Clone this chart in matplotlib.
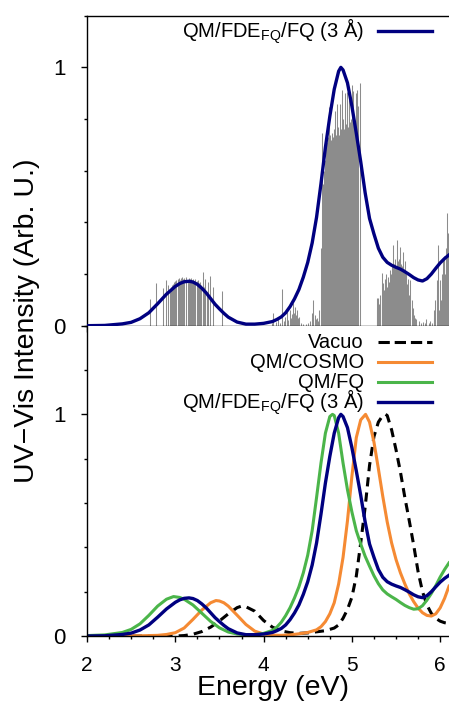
import matplotlib
matplotlib.use("Agg")
import matplotlib.pyplot as plt
from matplotlib.ticker import MultipleLocator, FixedLocator

plt.rcParams['font.family'] = ['Liberation Sans', 'DejaVu Sans']
plt.rcParams['mathtext.fontset'] = 'custom'
plt.rcParams['mathtext.rm'] = 'Liberation Sans'

# --- spectra (energy in eV, normalised intensity) ---
fde_E = [2.0, 2.2, 2.4, 2.5, 2.6, 2.7, 2.8, 2.9, 3.0, 3.05, 3.1, 3.155, 3.2, 3.25, 3.3,
         3.35, 3.4, 3.45, 3.5, 3.55, 3.6, 3.7, 3.8, 3.9, 4.0, 4.1, 4.15, 4.2, 4.25, 4.3,
         4.35, 4.4, 4.45, 4.5, 4.55, 4.6, 4.65, 4.7, 4.75, 4.8, 4.85, 4.875, 4.9, 4.95,
         5.0, 5.05, 5.1, 5.15, 5.2, 5.25, 5.3, 5.35, 5.4, 5.45, 5.5, 5.55, 5.6, 5.65,
         5.7, 5.75, 5.8, 5.85, 5.9, 5.95, 6.0, 6.05, 6.1]
fde_I = [0.0, 0.001, 0.007, 0.013, 0.027, 0.05, 0.085, 0.122, 0.152, 0.163, 0.17, 0.172,
         0.169, 0.16, 0.145, 0.127, 0.105, 0.083, 0.065, 0.048, 0.033, 0.014, 0.006,
         0.006, 0.009, 0.016, 0.024, 0.034, 0.05, 0.074, 0.104, 0.14, 0.188, 0.245, 0.32,
         0.42, 0.55, 0.69, 0.81, 0.915, 0.985, 1.0, 0.99, 0.94, 0.85, 0.745, 0.635, 0.515,
         0.415, 0.355, 0.3, 0.265, 0.245, 0.234, 0.226, 0.219, 0.209, 0.198, 0.186, 0.177,
         0.173, 0.182, 0.2, 0.222, 0.243, 0.26, 0.274]

fq_E = [2.0, 2.2, 2.4, 2.5, 2.6, 2.7, 2.8, 2.9, 2.98, 3.05, 3.1, 3.2, 3.3, 3.4, 3.5, 3.6,
        3.7, 3.8, 3.9, 4.0, 4.1, 4.15, 4.2, 4.25, 4.3, 4.35, 4.4, 4.45, 4.5, 4.55, 4.6,
        4.65, 4.7, 4.75, 4.78, 4.8, 4.85, 4.9, 4.95, 5.0, 5.05, 5.1, 5.15, 5.2, 5.25, 5.3,
        5.35, 5.4, 5.45, 5.5, 5.55, 5.6, 5.65, 5.7, 5.75, 5.8, 5.85, 5.9, 5.95, 6.0, 6.05,
        6.1]
fq_I = [0.002, 0.005, 0.016, 0.03, 0.055, 0.093, 0.135, 0.166, 0.178, 0.174, 0.166, 0.14,
        0.103, 0.066, 0.037, 0.018, 0.009, 0.005, 0.006, 0.012, 0.025, 0.04, 0.062, 0.092,
        0.128, 0.172, 0.222, 0.285, 0.365, 0.475, 0.625, 0.78, 0.915, 0.99, 1.0, 0.995,
        0.915, 0.78, 0.66, 0.56, 0.475, 0.415, 0.36, 0.315, 0.272, 0.236, 0.208, 0.19,
        0.177, 0.165, 0.151, 0.138, 0.128, 0.121, 0.123, 0.137, 0.162, 0.192, 0.227, 0.266,
        0.3, 0.33]

cosmo_E = [2.0, 2.6, 2.8, 2.9, 3.0, 3.1, 3.2, 3.3, 3.4, 3.46, 3.5, 3.55, 3.6, 3.7, 3.8,
           3.9, 4.0, 4.1, 4.2, 4.3, 4.4, 4.5, 4.6, 4.65, 4.7, 4.75, 4.8, 4.85, 4.9, 4.95,
           5.0, 5.05, 5.1, 5.155, 5.2, 5.25, 5.3, 5.35, 5.4, 5.45, 5.5, 5.55, 5.6, 5.65,
           5.7, 5.75, 5.8, 5.85, 5.9, 5.95, 6.0, 6.05, 6.1]
cosmo_I = [0.0, 0.001, 0.003, 0.007, 0.015, 0.036, 0.075, 0.117, 0.15, 0.16, 0.158, 0.15,
           0.135, 0.094, 0.052, 0.022, 0.009, 0.004, 0.003, 0.005, 0.01, 0.016, 0.028,
           0.042, 0.065, 0.1, 0.15, 0.235, 0.355, 0.52, 0.72, 0.895, 0.975, 1.0, 0.965,
           0.875, 0.755, 0.63, 0.515, 0.42, 0.345, 0.285, 0.235, 0.19, 0.155, 0.126, 0.105,
           0.093, 0.09, 0.1, 0.127, 0.17, 0.225]

vac_E = [2.0, 3.0, 3.1, 3.2, 3.3, 3.4, 3.5, 3.6, 3.7, 3.75, 3.8, 3.9, 4.0, 4.1, 4.2, 4.3,
         4.4, 4.5, 4.6, 4.7, 4.8, 4.85, 4.9, 4.95, 5.0, 5.05, 5.1, 5.15, 5.2, 5.25, 5.3,
         5.35, 5.38, 5.4, 5.45, 5.5, 5.55, 5.6, 5.65, 5.7, 5.75, 5.8, 5.85, 5.9, 5.95, 6.0,
         6.05, 6.1]
vac_I = [0.0, 0.0, 0.002, 0.008, 0.02, 0.04, 0.068, 0.1, 0.128, 0.135, 0.132, 0.112, 0.07,
         0.04, 0.023, 0.015, 0.012, 0.014, 0.019, 0.024, 0.036, 0.05, 0.08, 0.12, 0.175,
         0.27, 0.42, 0.58, 0.77, 0.9, 0.965, 0.995, 1.0, 0.995, 0.93, 0.84, 0.74, 0.625,
         0.52, 0.41, 0.29, 0.2, 0.14, 0.102, 0.08, 0.067, 0.06, 0.057]

# individual excitations (sticks) of the QM/FDE/FQ snapshots
stick_E = [2.713, 2.784, 2.855, 2.900, 2.922,
           2.936, 2.948, 2.960, 2.972, 2.984, 2.996, 3.008, 3.032, 3.044, 3.056, 3.068,
           3.080, 3.092, 3.104, 3.116, 3.140, 3.152, 3.164, 3.176, 3.188, 3.200, 3.212,
           3.224, 3.248, 3.260, 3.272, 3.284, 3.296,
           3.310, 3.317, 3.330, 3.342, 3.355, 3.368, 3.393, 3.430, 3.525,
           4.100, 4.110, 4.140, 4.167, 4.190, 4.212, 4.230, 4.242, 4.261, 4.280, 4.299,
           4.310, 4.322, 4.337, 4.346, 4.356, 4.366, 4.375, 4.390, 4.405, 4.420, 4.450,
           4.480, 4.506, 4.530, 4.544, 4.555, 4.563, 4.580, 4.590, 4.601, 4.615, 4.630,
           4.645, 4.658, 4.668, 4.678, 4.688, 4.698, 4.708, 4.718, 4.728, 4.736, 4.745,
           4.756, 4.767, 4.778, 4.789, 4.800, 4.808, 4.818, 4.827, 4.838, 4.848, 4.857,
           4.865, 4.875, 4.884, 4.894, 4.903, 4.912, 4.922, 4.932, 4.941, 4.950, 4.960,
           4.971, 4.980, 4.990, 4.997, 5.008, 5.018, 5.028, 5.037, 5.046, 5.056, 5.066,
           5.088,
           5.280, 5.290, 5.300, 5.310, 5.320, 5.337, 5.345, 5.355, 5.365, 5.375, 5.385,
           5.395, 5.405, 5.415, 5.431, 5.440, 5.450, 5.460, 5.469, 5.478, 5.488, 5.497,
           5.507, 5.516, 5.526, 5.535, 5.545, 5.555, 5.565, 5.574, 5.582, 5.592, 5.602,
           5.612, 5.622, 5.632, 5.642, 5.658, 5.677, 5.690, 5.700, 5.715, 5.730, 5.760,
           5.780, 5.800, 5.830, 5.845, 5.870, 5.885, 5.905,
           5.925, 5.935, 5.945, 5.959, 5.968, 5.979, 5.988, 5.998, 6.008, 6.018, 6.028,
           6.035, 6.045, 6.055, 6.065, 6.074, 6.085, 6.095]
stick_I = [0.103, 0.164, 0.145, 0.177, 0.157,
           0.13, 0.15, 0.158, 0.163, 0.168, 0.172, 0.178, 0.18, 0.186, 0.178, 0.183,
           0.189, 0.18, 0.185, 0.19, 0.178, 0.186, 0.18, 0.184, 0.176, 0.182, 0.174,
           0.179, 0.172, 0.176, 0.166, 0.17, 0.158,
           0.16, 0.209, 0.15, 0.18, 0.12, 0.17, 0.192, 0.149, 0.136,
           0.01, 0.05, 0.015, 0.03, 0.012, 0.142, 0.02, 0.035, 0.054, 0.022, 0.06,
           0.03, 0.045, 0.087, 0.05, 0.074, 0.04, 0.06, 0.03, 0.035, 0.012, 0.006,
           0.008, 0.012, 0.02, 0.048, 0.03, 0.1, 0.04, 0.025, 0.03, 0.02, 0.06,
           0.3, 0.745, 0.55, 0.48, 0.6, 0.64, 0.7, 0.712, 0.73, 0.7, 0.847,
           0.74, 0.72, 0.745, 0.73, 0.76, 0.83, 0.74, 0.86, 0.75, 0.77, 0.74,
           0.86, 0.76, 0.912, 0.78, 0.8, 0.76, 0.9, 0.78, 0.8, 0.906, 0.77,
           0.873, 0.79, 0.8, 0.93, 0.91, 0.77, 0.8, 0.78, 0.9, 0.912, 0.85,
           0.938,
           0.106, 0.06, 0.106, 0.085, 0.12, 0.203, 0.12, 0.164, 0.14, 0.18, 0.2,
           0.15, 0.19, 0.17, 0.216, 0.2, 0.225, 0.24, 0.312, 0.24, 0.26, 0.23,
           0.332, 0.27, 0.25, 0.26, 0.306, 0.24, 0.23, 0.22, 0.287, 0.22, 0.25,
           0.2, 0.16, 0.18, 0.12, 0.177, 0.099, 0.07, 0.04, 0.03, 0.025, 0.02,
           0.012, 0.015, 0.01, 0.025, 0.012, 0.02, 0.01,
           0.03, 0.06, 0.1, 0.177, 0.12, 0.312, 0.06, 0.177, 0.1, 0.2, 0.15,
           0.254, 0.27, 0.2, 0.3, 0.435, 0.36, 0.3]

fde_label = r'QM/FDE$_\mathregular{FQ}$/FQ (3 Å)'

navy = '#000080'
orange = '#f58a33'
green = '#4bb54a'
grey = '#8c8c8c'

fig = plt.figure(figsize=(4.49, 7.01), dpi=100)
ax1 = fig.add_axes([0.1938, 0.5354, 0.8062, 0.4422])
ax2 = fig.add_axes([0.1938, 0.0927, 0.8062, 0.4427])

# top panel: sticks + broadened spectrum
ax1.vlines(stick_E, 0, stick_I, colors=grey, linewidth=0.75, zorder=1)
top_lines = ax1.plot(fde_E, fde_I, color=navy, lw=2.4, zorder=3)
ax1.set_ylim(0, 1.2)

# bottom panel: comparison of models
l_vac, = ax2.plot(vac_E, vac_I, color='black', lw=2.2, linestyle=(0, (3, 2)))
l_cos, = ax2.plot(cosmo_E, cosmo_I, color=orange, lw=2.2)
l_fq, = ax2.plot(fq_E, fq_I, color=green, lw=2.2)
l_fde, = ax2.plot(fde_E, fde_I, color=navy, lw=2.4)
ax2.set_ylim(0, 1.4)

for ax in (ax1, ax2):
    ax.set_xlim(2, 6.1)
    ax.xaxis.set_major_locator(MultipleLocator(1))
    ax.xaxis.set_minor_locator(MultipleLocator(0.25))
    ax.yaxis.set_major_locator(FixedLocator([0, 1]))
    ax.yaxis.set_minor_locator(MultipleLocator(0.2))
    ax.tick_params(which='major', direction='out', length=4, width=1)
    ax.tick_params(which='minor', direction='out', length=2.2, width=1)
    ax.tick_params(axis='y', which='major', pad=11.5, labelsize=16)
    ax.tick_params(axis='x', which='major', pad=10.5, labelsize=15)
    ax.spines['right'].set_visible(False)
    for s in ax.spines.values():
        s.set_linewidth(1)

ax1.tick_params(axis='x', labelbottom=False)
ax2.spines['top'].set_visible(False)


def key(ax, lines, labels, y0, step):
    # gnuplot-style key: label right-aligned, sample line on its right
    for i, (ln, lab) in enumerate(zip(lines, labels)):
        yb = y0 - i * step
        ax.text(0.765, yb, lab, transform=ax.transAxes, ha='right', va='baseline',
                fontsize=14.5)
        ax.plot([0.803, 0.953], [yb + 0.0195, yb + 0.0195], transform=ax.transAxes,
                color=ln.get_color(), lw=ln.get_linewidth(), ls=ln.get_linestyle(),
                clip_on=False)


key(ax1, top_lines, [fde_label], 0.9303, 0.0645)
key(ax2, [l_vac, l_cos, l_fq, l_fde], ['Vacuo', 'QM/COSMO', 'QM/FQ', fde_label],
    0.9272, 0.0645)

fig.text(273 / 449, 1 - 695 / 701, 'Energy (eV)', fontsize=20.5, ha='center',
         va='baseline')
fig.text(27 / 449, 0.543, 'UV\u2212Vis Intensity (Arb. U.)', fontsize=20.5,
         rotation=90, ha='center', va='center')

fig.savefig('out.png', dpi=100)
